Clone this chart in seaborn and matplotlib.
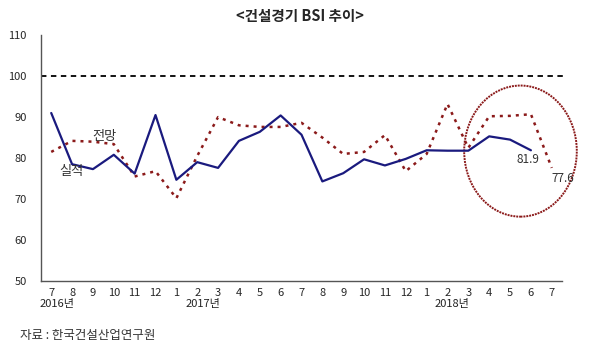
import numpy as np
import pandas as pd
import matplotlib
matplotlib.use("Agg")
import matplotlib.pyplot as plt
from matplotlib.patches import Ellipse
from matplotlib.transforms import blended_transform_factory
import seaborn as sns

# months from 2016-07 to 2018-07
months = ['7', '8', '9', '10', '11', '12',
          '1', '2', '3', '4', '5', '6', '7', '8', '9', '10', '11', '12',
          '1', '2', '3', '4', '5', '6', '7']
years = ['2016년', '2017년', '2018년']
year_pos = [0.3, 7.3, 19.2]

# actual (실적), up to 2018-06
actual = [91.0, 78.5, 77.3, 80.8, 76.2, 90.5,
          74.7, 79.0, 77.6, 84.2, 86.4, 90.4, 85.7, 74.3, 76.3, 79.7, 78.2, 79.8,
          81.9, 81.8, 81.8, 85.3, 84.5, 81.9]
# forecast (전망), up to 2018-07
forecast = [81.5, 84.2, 84.0, 83.4, 75.5, 76.8,
            70.2, 80.5, 90.0, 88.0, 87.6, 87.6, 88.6, 85.0, 81.0, 81.5, 85.6, 76.8,
            81.0, 93.2, 82.5, 90.2, 90.3, 90.7, 77.6]

sns.set_style("white")
plt.rcParams['font.family'] = ['Noto Sans CJK KR', 'DejaVu Sans']

df_a = pd.DataFrame({'idx': range(len(actual)), 'val': actual})
df_f = pd.DataFrame({'idx': range(len(forecast)), 'val': forecast})

fig = plt.figure(figsize=(6, 3.55), dpi=100)
ax = fig.add_axes([0.068, 0.2085, 0.869, 0.6925])

sns.lineplot(data=df_f, x='idx', y='val', ax=ax, color='#8B1A1A', lw=1.8,
             linestyle=(0, (1.2, 2)))
sns.lineplot(data=df_a, x='idx', y='val', ax=ax, color='#1a1a7e', lw=1.6)

ax.axhline(100, color='black', lw=1.3, linestyle=(0, (3, 2.5)), xmax=1.01,
           clip_on=False)

ax.add_patch(Ellipse((22.5, 81.7), 5.4, 32, fill=False, edgecolor='#8B1A1A',
                     lw=1.4, linestyle=(0, (1, 0.5)), clip_on=False))

ax.text(2.55, 85.2, '전망', fontsize=9.5, color='#333333', ha='center', va='center')
ax.text(0.96, 76.6, '실적', fontsize=9.5, color='#333333', ha='center', va='center')
ax.text(22.85, 79.6, '81.9', fontsize=8.5, color='#333333', ha='center', va='center')
ax.text(24.53, 75.1, '77.6', fontsize=8.5, color='#333333', ha='center', va='center')

ax.set_xlim(-0.5, 24.5)
ax.set_ylim(50, 110)
ax.set_yticks(range(50, 111, 10))
ax.set_xticks(range(len(months)))
ax.set_xticklabels(months)
ax.set_xticks(np.arange(0.5, 24.5, 1), minor=True)
ax.tick_params(axis='x', which='major', length=0, labelsize=8, pad=5)
ax.tick_params(axis='x', which='minor', length=3, direction='in', width=0.8)
ax.tick_params(axis='y', length=3, direction='in', labelsize=8, pad=10)
ax.set_xlabel('')
ax.set_ylabel('')
for s in ['top', 'right']:
    ax.spines[s].set_visible(False)
for s in ['left', 'bottom']:
    ax.spines[s].set_color('#555555')
    ax.spines[s].set_linewidth(1)

tr = blended_transform_factory(ax.transData, fig.transFigure)
for y, p in zip(years, year_pos):
    ax.text(p, 0.135, y, transform=tr, fontsize=8, ha='center', color='#222222')

fig.text(0.5, 0.955, '<건설경기 BSI 추이>', fontsize=10.5, fontweight='bold',
         ha='center', va='center')
fig.text(0.033, 0.045, '자료 : 한국건설산업연구원', fontsize=9, color='#333333')

fig.savefig('out.png', dpi=100)
